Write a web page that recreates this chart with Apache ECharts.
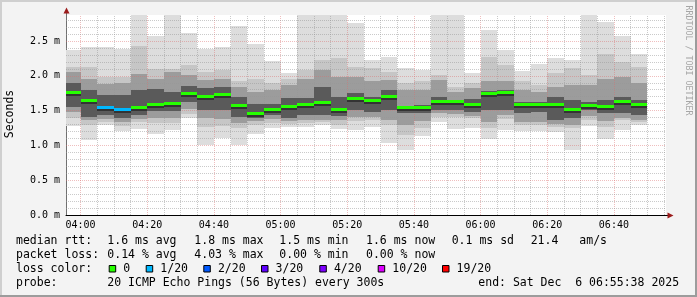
<!DOCTYPE html>
<html><head><meta charset="utf-8">
<script src="https://cdn.jsdelivr.net/npm/echarts@6/dist/echarts.min.js"></script>
<style>html,body{margin:0;padding:0;background:#f3f3f3}#c{width:697px;height:297px}</style>
</head><body><div id="c"></div><script>
// ---- data (ms) ----
const times = ["04:00","04:05","04:10","04:15","04:20","04:25","04:30","04:35","04:40","04:45","04:50","04:55","05:00","05:05","05:10","05:15","05:20","05:25","05:30","05:35","05:40","05:45","05:50","05:55","06:00","06:05","06:10","06:15","06:20","06:25","06:30","06:35","06:40","06:45","06:50"];
const pingMin = [1.28,1.08,1.29,1.21,1.23,1.17,1.22,1.40,1.00,1.10,1.00,1.17,1.25,1.27,1.27,1.30,1.23,1.22,1.27,1.04,0.93,1.135,1.33,1.23,1.25,1.09,1.22,1.21,1.20,1.19,0.94,1.28,1.09,1.22,1.29];
const ping2   = [1.40,1.30,1.33,1.28,1.33,1.32,1.32,1.45,1.27,1.28,1.25,1.30,1.32,1.31,1.32,1.34,1.29,1.35,1.36,1.30,1.15,1.25,1.41,1.41,1.39,1.25,1.38,1.29,1.29,1.27,1.25,1.37,1.27,1.36,1.34];
const ping5   = [1.48,1.36,1.38,1.34,1.38,1.40,1.40,1.52,1.40,1.38,1.32,1.35,1.38,1.35,1.36,1.36,1.36,1.41,1.41,1.36,1.30,1.35,1.46,1.45,1.42,1.34,1.44,1.33,1.33,1.31,1.30,1.42,1.35,1.40,1.37];
const ping8   = [1.55,1.41,1.43,1.40,1.44,1.50,1.50,1.63,1.51,1.51,1.41,1.40,1.44,1.40,1.43,1.44,1.42,1.51,1.48,1.51,1.46,1.46,1.51,1.51,1.48,1.51,1.51,1.46,1.48,1.37,1.39,1.51,1.46,1.46,1.44];
const median  = [1.76,1.65,1.55,1.52,1.55,1.59,1.60,1.74,1.70,1.73,1.57,1.46,1.52,1.56,1.585,1.615,1.52,1.67,1.64,1.70,1.54,1.55,1.63,1.625,1.595,1.75,1.76,1.585,1.59,1.585,1.52,1.58,1.566,1.628,1.59];
const ping13  = [1.90,1.80,1.73,1.72,1.80,1.81,1.77,1.85,1.82,1.84,1.70,1.60,1.60,1.68,1.68,1.84,1.70,1.75,1.70,1.80,1.56,1.58,1.70,1.65,1.67,1.78,1.80,1.63,1.63,1.70,1.65,1.63,1.65,1.70,1.65];
const ping16  = [2.05,1.95,1.88,1.90,2.02,1.96,2.05,2.01,1.94,1.96,1.84,1.77,1.80,1.87,1.96,2.08,1.99,1.99,1.92,1.94,1.80,1.80,1.94,1.77,1.82,1.92,1.92,1.80,1.77,1.84,1.87,1.87,1.96,1.99,1.89];
const ping19  = [2.13,2.13,1.98,1.99,2.43,2.10,2.10,2.15,2.06,2.08,1.92,1.96,1.89,1.96,2.08,2.23,2.25,2.13,2.11,2.06,1.89,1.92,2.01,1.84,1.89,2.27,2.15,1.92,1.87,2.04,2.11,2.01,2.32,2.20,2.13];
const pingMax = [2.37,2.42,2.41,2.39,2.87,2.57,2.87,2.62,2.39,2.42,2.72,2.46,2.21,2.04,2.87,2.87,2.87,2.76,2.23,2.27,2.11,2.08,2.87,2.87,2.04,2.66,2.37,2.07,2.17,2.25,2.23,2.87,2.78,2.57,2.31];
const lossCount = [0,0,1,1,0,0,0,0,0,0,0,0,0,0,0,0,0,0,0,0,0,0,0,0,0,0,0,0,0,0,0,0,0,0,0];
const stepMinutes = 5;
const xStart = "03:55:38", xEnd = "06:55:38";
const xTickLabels = ["04:00","04:20","04:40","05:00","05:20","05:40","06:00","06:20","06:40"];
const yTickValues = [0,0.5,1.0,1.5,2.0,2.5];
const yTickLabels = ["0.0 m","0.5 m","1.0 m","1.5 m","2.0 m","2.5 m"];
const yMax = 2.874;
const lossLevels = ["0","1/20","2/20","3/20","4/20","10/20","19/20"];
const lossLevelCounts = [0,1,2,3,4,10,19];
const lossColors = ["#26ff00","#00b8ff","#0059ff","#5e00ff","#7e00ff","#dd00ff","#ff0000"];
const legendRow1 = ["median rtt:","1.6 ms avg","1.8 ms max","1.5 ms min","1.6 ms now","0.1 ms sd","21.4","am/s"];
const legendRow2 = ["packet loss:","0.14 % avg","4.03 % max","0.00 % min","0.00 % now"];
const legendRow3Title = "loss color:";
const legendRow4 = ["probe:","20 ICMP Echo Pings (56 Bytes) every 300s","end: Sat Dec  6 06:55:38 2025"];
const yTitle = "Seconds";
const sideNote = "RRDTOOL / TOBI OETIKER";

// ---- layout ----
const MONO = '"DejaVu Sans Mono", monospace';
const toMin = s => { const p = s.split(':').map(Number); return p[0]*60 + p[1] + (p[2]||0)/60; };
const xMin = toMin(xStart), xMax = toMin(xEnd);
const ends = times.map(toMin);

function bandSeries(lo, hi, color, z) {
  return {
    type: 'custom', coordinateSystem: 'cartesian2d', z: z, silent: true, animation: false,
    data: ends.map((e, i) => [e - stepMinutes, e, lo[i], hi[i]]),
    encode: { x: [0, 1], y: [2, 3] },
    renderItem: function (params, api) {
      const a = api.coord([api.value(0), api.value(3)]);
      const b = api.coord([api.value(1), api.value(2)]);
      const x0 = Math.round(a[0]), x1 = Math.round(b[0]), y0 = Math.round(a[1]), y1 = Math.round(b[1]);
      const cs = params.coordSys;
      const shape = echarts.graphic.clipRectByRect({x: x0, y: y0, width: x1 - x0, height: y1 - y0},
        {x: cs.x, y: cs.y, width: cs.width, height: cs.height});
      return shape && { type: 'rect', shape: shape, style: { fill: color } };
    }
  };
}

const medianSeries = {
  type: 'custom', coordinateSystem: 'cartesian2d', z: 6, silent: true, animation: false,
  data: ends.map((e, i) => [e - stepMinutes, e, median[i], lossCount[i]]),
  encode: { x: [0, 1], y: 2 },
  renderItem: function (params, api) {
    const a = api.coord([api.value(0), api.value(2)]);
    const b = api.coord([api.value(1), api.value(2)]);
    const x0 = Math.round(a[0]), x1 = Math.round(b[0]);
    const yc = a[1];
    const y0 = Math.round(yc - 1.5);
    const cs = params.coordSys;
    const clipR = {x: cs.x, y: cs.y, width: cs.width, height: cs.height};
    const shape = echarts.graphic.clipRectByRect({x: x0, y: y0, width: x1 - x0, height: 3}, clipR);
    const dark = echarts.graphic.clipRectByRect({x: x0, y: y0 + 3, width: x1 - x0, height: 2}, clipR);
    const idx = lossLevelCounts.indexOf(api.value(3));
    if (!shape) return null;
    return { type: 'group', children: [
      { type: 'rect', shape: dark, style: { fill: '#333333' } },
      { type: 'rect', shape: shape, style: { fill: lossColors[idx < 0 ? 0 : idx] } }
    ] };
  }
};

const MINC = 'rgba(150,150,150,0.5)', MAJC = 'rgba(220,110,110,0.45)';
const gridLines = [];
for (let m = Math.ceil(xMin / 5) * 5; m < xMax; m += 5) {
  gridLines.push({ xAxis: m, lineStyle: { color: (m % 20 === 0) ? MAJC : MINC } });
}
for (let k = 1; k / 10 < yMax; k++) {
  gridLines.push({ yAxis: k / 10, lineStyle: { color: (k % 5 === 0) ? MAJC : MINC } });
}

const graphics = [];
// frame
graphics.push({type:'rect', shape:{x:0,y:0,width:697,height:2}, style:{fill:'#cfcfcf'}, silent:true, z:100});
graphics.push({type:'rect', shape:{x:0,y:0,width:2,height:297}, style:{fill:'#cfcfcf'}, silent:true, z:100});
graphics.push({type:'rect', shape:{x:695,y:0,width:2,height:297}, style:{fill:'#9c9c9c'}, silent:true, z:100});
graphics.push({type:'rect', shape:{x:0,y:295,width:697,height:2}, style:{fill:'#9c9c9c'}, silent:true, z:100});
// arrows
graphics.push({type:'line', shape:{x1:66.5,y1:15,x2:66.5,y2:12}, style:{stroke:'#707070', lineWidth:1}, silent:true, z:100});
graphics.push({type:'polygon', shape:{points:[[66.5,7.5],[63.5,13.5],[69.5,13.5]]}, style:{fill:'#9b1b1b'}, silent:true, z:100});
graphics.push({type:'line', shape:{x1:666,y1:215.5,x2:669,y2:215.5}, style:{stroke:'#000', lineWidth:1}, silent:true, z:100});
graphics.push({type:'polygon', shape:{points:[[673.5,215.5],[667.5,212.5],[667.5,218.5]]}, style:{fill:'#9b1b1b'}, silent:true, z:100});
// titles
function txt(s, x, y, size, color, rot, align) {
  return {type:'text', x:x, y:y, rotation: rot || 0, silent:true, z:100,
    style:{text:s, font: size + 'px ' + MONO, fill: color, align: align || 'left', verticalAlign:'middle',
      textAlign: align || 'left', textVerticalAlign: 'middle'}};
}
graphics.push(txt(yTitle, 10.5, 114, 11.5, '#000', Math.PI/2, 'center'));
graphics.push(txt(sideNote, 688, 60.5, 8.3, '#a6a6a6', -Math.PI/2, 'center'));
// legend
const colX = [16,107.3,194.3,279.3,366,451.7,530.7,579.3];
const rowY = [241.3,254.6,268.9,282.6];
legendRow1.forEach((s,i) => graphics.push(txt(s, colX[i], rowY[0], 11.5, '#000')));
legendRow2.forEach((s,i) => graphics.push(txt(s, colX[i], rowY[1], 11.5, '#000')));
graphics.push(txt(legendRow3Title, 16, rowY[2], 11.5, '#000'));
const boxX = [108.7,145.7,203.3,261,319.3,377.7,442];
lossLevels.forEach((s,i) => {
  graphics.push({type:'rect', shape:{x:boxX[i]+0.5, y:265.5, width:6.5, height:6.5}, style:{fill:lossColors[i], stroke:'#000', lineWidth:1}, silent:true, z:100});
  graphics.push(txt(s, boxX[i] + 14.6, rowY[2], 11.5, '#000'));
});
const row4X = [16,107.3,478.3];
legendRow4.forEach((s,i) => graphics.push(txt(s, row4X[i], rowY[3], 11.5, '#000')));

const chart = echarts.init(document.getElementById('c'), null, {renderer:'canvas', width:697, height:297});
chart.setOption({
  animation: false,
  backgroundColor: '#f3f3f3',
  grid: { left: 66, top: 15, width: 600, height: 200, show: true, backgroundColor: '#ffffff', borderWidth: 0, containLabel: false },
  xAxis: {
    type: 'value', min: xMin, max: xMax,
    axisLine: { show: true, lineStyle: { color: '#000', width: 1 } },
    axisTick: { show: false },
    splitLine: { show: false },
    axisLabel: {
      customValues: xTickLabels.map(toMin),
      formatter: v => { const i = xTickLabels.map(toMin).findIndex(t => Math.abs(t - v) < 1e-6); return i >= 0 ? xTickLabels[i] : ''; },
      fontFamily: MONO, fontSize: 10, color: '#000', margin: 5
    }
  },
  yAxis: {
    type: 'value', min: 0, max: yMax,
    axisLine: { show: true, lineStyle: { color: '#707070', width: 1 } },
    axisTick: { show: false },
    splitLine: { show: false },
    axisLabel: {
      customValues: yTickValues,
      formatter: v => { const i = yTickValues.findIndex(t => Math.abs(t - v) < 1e-6); return i >= 0 ? yTickLabels[i] : ''; },
      fontFamily: MONO, fontSize: 10, color: '#000', margin: 6
    }
  },
  series: [
    bandSeries(pingMin, pingMax, '#dddddd', 2),
    bandSeries(ping2, ping19, '#c6c6c6', 3),
    bandSeries(ping5, ping16, '#9c9c9c', 4),
    bandSeries(ping8, ping13, '#5a5a5a', 5),
    medianSeries,
    { type: 'line', data: [], z: 7, silent: true, animation: false,
      markLine: { silent: true, symbol: ['none','none'], label: { show: false }, animation: false,
        lineStyle: { type: [1,1], width: 1 }, emphasis: { disabled: true }, data: gridLines } }
  ],
  graphic: graphics
});
</script></body></html>
